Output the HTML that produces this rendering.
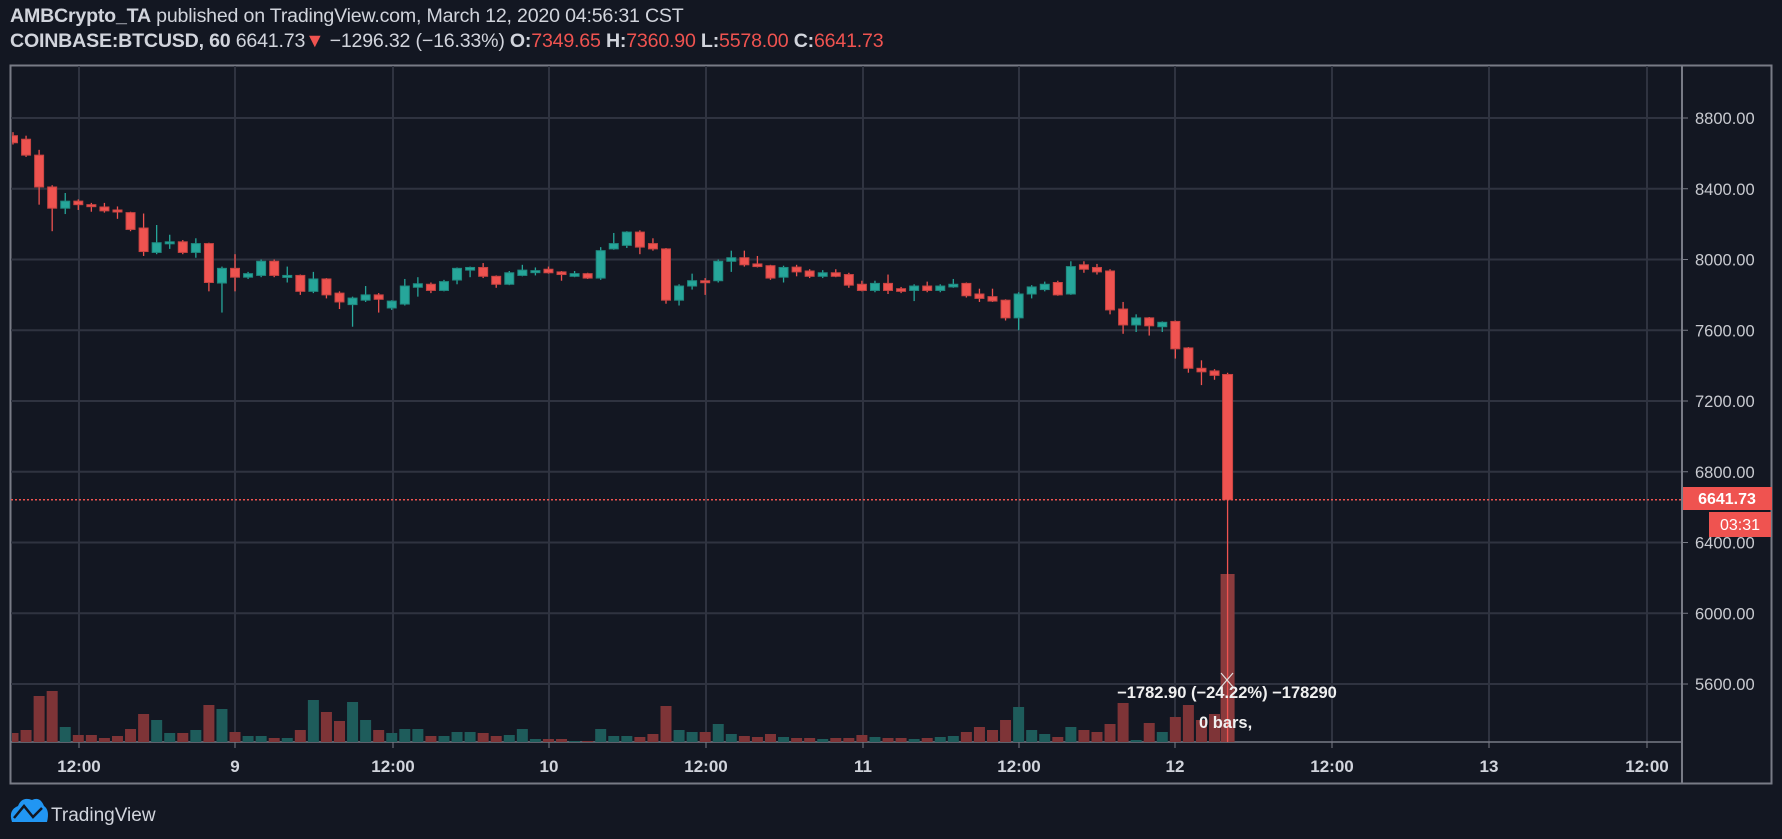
<!DOCTYPE html>
<html><head><meta charset="utf-8"><style>
html,body{margin:0;padding:0;background:#131722;}
body{width:1782px;height:839px;overflow:hidden;position:relative;font-family:"Liberation Sans",sans-serif;}
.h{position:absolute;left:10px;color:#d1d4dc;font-size:19.6px;white-space:nowrap;letter-spacing:-0.2px}
.h b{font-weight:bold}
.r{color:#ef5350}
</style></head><body>
<div class="h" style="top:5px"><b>AMBCrypto_TA</b> published on TradingView.com, March 12, 2020 04:56:31 CST</div>
<div class="h" style="top:30px"><b>COINBASE:BTCUSD, 60</b> 6641.73<span class="r">▼</span> −1296.32 (−16.33%) <b>O:</b><span class="r">7349.65</span> <b>H:</b><span class="r">7360.90</span> <b>L:</b><span class="r">5578.00</span> <b>C:</b><span class="r">6641.73</span></div>
<svg id="s" width="1782" height="839" style="position:absolute;left:0;top:0" xmlns="http://www.w3.org/2000/svg"></svg>
<script>
var s=document.getElementById('s');var out='';
function y(p){return 118+(8800-p)*0.17688;}
out+='<rect x="10.5" y="65.5" width="1761" height="718" fill="none" stroke="#787b86" stroke-width="2"/>';
for(var p=8800;p>=5600;p-=400){var yy=y(p);out+='<line x1="11" x2="1682" y1="'+yy+'" y2="'+yy+'" stroke="#2f3340" stroke-width="2"/>';
out+='<line x1="1682" x2="1688" y1="'+yy+'" y2="'+yy+'" stroke="#787b86"/>';
out+='<text x="1695" y="'+(yy+6)+'" fill="#c8cad0" font-size="16.5" font-family="Liberation Sans">'+p+'.00</text>';}
var xs=[79,235,393,549,706,863,1019,1175,1332,1489,1647],lb=['12:00','9','12:00','10','12:00','11','12:00','12','12:00','13','12:00'];
for(var i=0;i<xs.length;i++){out+='<line x1="'+xs[i]+'" x2="'+xs[i]+'" y1="66" y2="742" stroke="#2f3340" stroke-width="2"/>';
out+='<line x1="'+xs[i]+'" x2="'+xs[i]+'" y1="742" y2="748" stroke="#787b86"/>';
out+='<text x="'+xs[i]+'" y="772" text-anchor="middle" fill="#d1d4dc" font-size="17" font-weight="bold" font-family="Liberation Sans">'+lb[i]+'</text>';}
out+='<line x1="1682" x2="1682" y1="66" y2="783" stroke="#787b86" stroke-width="2"/>';
out+='<line x1="11" x2="1682" y1="742" y2="742" stroke="#787b86" stroke-width="1.5"/>';
var d=[[8700,8660,8720,8650],[8680,8590,8700,8580],[8590,8410,8620,8310],[8410,8290,8420,8160],[8290,8330,8376,8257],[8330,8310,8340,8280],[8310,8300,8320,8270],[8297,8275,8320,8265],[8280,8275,8300,8230],[8265,8170,8270,8160],[8178,8045,8260,8020],[8040,8095,8195,8030],[8095,8100,8140,8060],[8100,8040,8110,8030],[8040,8090,8120,8010],[8090,7870,8095,7820],[7867,7950,7960,7700],[7950,7900,8030,7820],[7900,7920,7930,7890],[7910,7990,8000,7900],[7990,7910,8000,7900],[7900,7910,7960,7870],[7910,7820,7915,7800],[7820,7890,7930,7810],[7890,7800,7895,7780],[7810,7760,7820,7720],[7745,7782,7790,7620],[7770,7800,7850,7760],[7800,7775,7810,7700],[7726,7765,7770,7715],[7748,7850,7890,7740],[7843,7863,7900,7790],[7860,7825,7870,7810],[7825,7875,7885,7820],[7884,7950,7955,7860],[7940,7955,7960,7900],[7955,7905,7980,7895],[7905,7860,7910,7840],[7860,7925,7935,7855],[7910,7940,7970,7905],[7932,7937,7955,7910],[7945,7925,7960,7920],[7930,7915,7935,7880],[7905,7920,7935,7900],[7920,7895,7925,7890],[7895,8050,8070,7885],[8060,8090,8150,8055],[8080,8155,8160,8065],[8155,8070,8165,8030],[8090,8060,8120,8050],[8060,7770,8065,7750],[7770,7850,7860,7740],[7850,7880,7920,7830],[7880,7878,7895,7800],[7880,7990,8000,7870],[7990,8010,8050,7930],[8010,7970,8050,7960],[7975,7960,8020,7955],[7965,7895,7970,7885],[7900,7955,7965,7870],[7957,7930,7970,7905],[7935,7905,7945,7895],[7905,7925,7940,7895],[7925,7905,7945,7900],[7915,7855,7925,7840],[7860,7825,7880,7820],[7825,7865,7880,7815],[7865,7825,7915,7805],[7835,7820,7845,7810],[7825,7850,7860,7765],[7850,7825,7875,7815],[7825,7850,7860,7815],[7845,7860,7890,7840],[7865,7795,7870,7785],[7805,7780,7835,7760],[7790,7765,7835,7760],[7770,7670,7775,7655],[7670,7805,7815,7600],[7805,7845,7855,7780],[7830,7860,7875,7820],[7870,7800,7880,7795],[7805,7960,7990,7800],[7970,7945,7990,7925],[7955,7930,7975,7915],[7935,7715,7945,7690],[7720,7630,7760,7580],[7630,7670,7690,7590],[7670,7625,7675,7570],[7620,7645,7650,7590],[7650,7495,7655,7440],[7500,7385,7505,7360],[7385,7365,7430,7290],[7370,7345,7380,7320],[7350,6642,7360,5578]];
var v=[9,12,46,51,15,7,7,4,6,13,28,22,9,9,12,37,33,10,6,6,4,4,12,42,30,21,40,22,12,9,13,13,6,6,10,10,9,6,7,13,3,3,3,1,1,13,6,6,5,8,36,12,10,10,18,8,6,5,8,5,4,4,3,4,4,7,5,4,4,3,4,5,6,10,15,12,22,35,12,8,5,15,12,10,18,39,2,19,10,25,37,22,28,168];
out+='<defs><clipPath id="c"><rect x="12" y="66" width="1669" height="676"/></clipPath></defs><g clip-path="url(#c)">';
for(var i=0;i<d.length;i++){var c=13+i*13.06;var o=d[i][0],cl=d[i][1];var up=cl>=o;
var vc=up?'#1e5c5b':'#7e3437';var vh=v[i];
if(i==93){out+='<rect x="'+(c-7)+'" y="'+(742-vh)+'" width="14" height="'+vh+'" fill="#8a3b3d"/>';}
else out+='<rect x="'+(c-5.5)+'" y="'+(742-vh)+'" width="11" height="'+vh+'" fill="'+vc+'"/>';}
for(var i=0;i<d.length;i++){var c=13+i*13.06;var o=d[i][0],cl=d[i][1],h=d[i][2],l=d[i][3];var up=cl>=o;
var col=up?'#26a69a':'#ef5350';var bc=up?'#1f8a80':'#c94442';
var ly=i==93?742:y(l);
out+='<line x1="'+c+'" x2="'+c+'" y1="'+y(h)+'" y2="'+ly+'" stroke="'+col+'" stroke-width="1.3"/>';
var t=y(Math.max(o,cl)),b=y(Math.min(o,cl));if(b-t<2)b=t+2;
var w=i==93?10:9;
out+='<rect x="'+(c-w/2)+'" y="'+t+'" width="'+w+'" height="'+(b-t)+'" fill="'+col+'" stroke="'+bc+'" stroke-width="1"/>';}
out+='</g>';
var py=y(6641.73);
out+='<line x1="11" x2="1682" y1="'+py+'" y2="'+py+'" stroke="#ef5350" stroke-width="1.5" stroke-dasharray="2,2"/>';
out+='<rect x="1683" y="487" width="89" height="23" fill="#ef5350"/><text x="1727" y="504" text-anchor="middle" fill="#fff" font-size="16" font-weight="bold" font-family="Liberation Sans">6641.73</text>';
out+='<rect x="1709" y="512" width="62" height="25" fill="#ef5350"/><text x="1740" y="530" text-anchor="middle" fill="#fff" font-size="16" font-family="Liberation Sans">03:31</text>';
out+='<path d="M1221 673 L1227 680 L1233 673" stroke="#e0e0e0" fill="none" stroke-width="1.2"/><path d="M1221 687 L1227 680 L1233 687" stroke="#e0e0e0" fill="none" stroke-width="1.2"/>';
out+='<text x="1227" y="698" text-anchor="middle" fill="#f0f0f0" font-size="16.5" font-weight="bold" font-family="Liberation Sans">−1782.90 (−24.22%) −178290</text>';
out+='<text x="1199" y="728" fill="#f0f0f0" font-size="16.5" font-weight="bold" font-family="Liberation Sans">0 bars,</text>';
out+='<path d="M12 822 Q8 810 18 806 Q22 796 32 800 Q40 796 44 806 Q50 810 47 822 Z" fill="#2196f3"/><polyline points="14,818 24,806 33,817 42,808" fill="none" stroke="#131722" stroke-width="2.5"/>';
out+='<text x="51" y="821" fill="#d1d4dc" font-size="19" font-family="Liberation Sans">TradingView</text>';
s.innerHTML=out;
</script>
</body></html>
